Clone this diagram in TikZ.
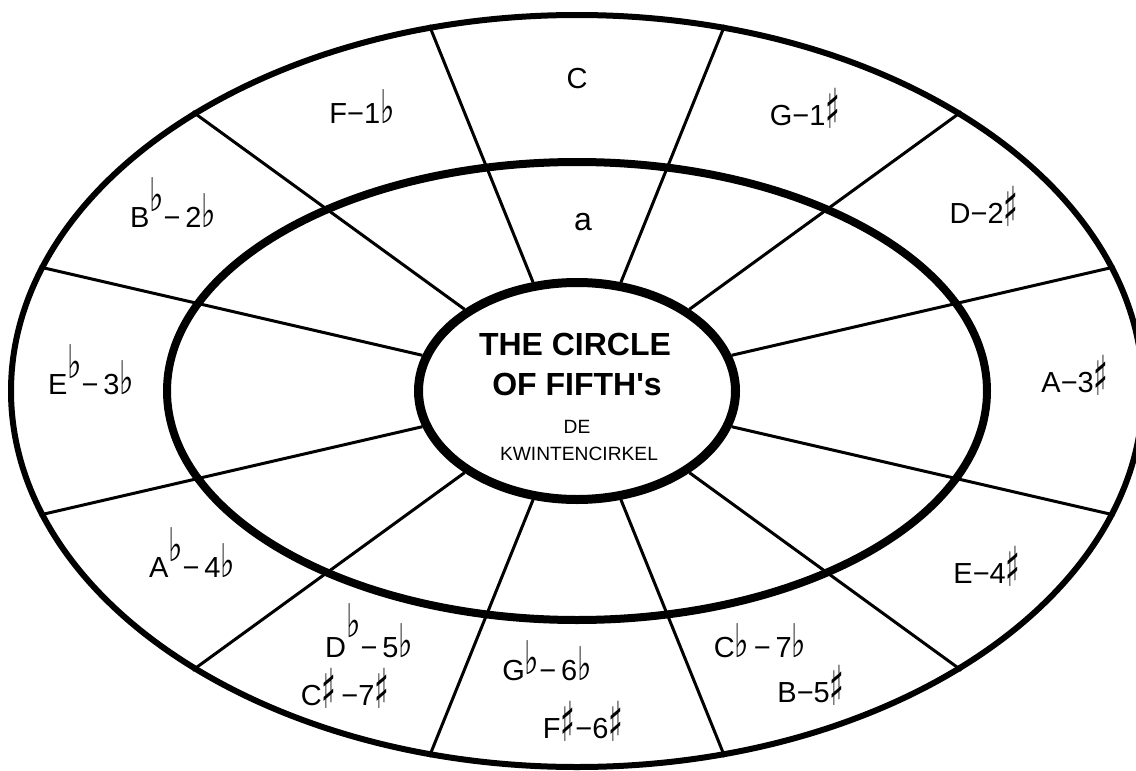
\documentclass[tikz,border=0pt]{standalone}
\usepackage{fontspec}
\setmainfont{Liberation Sans}
\newfontfamily\musicfont{DejaVu Sans}
\usetikzlibrary{shapes.geometric}
\newcommand{\fl}{\scalebox{1.05}[1.6]{\musicfont ♭}}
\newcommand{\sh}{\raisebox{-0.12em}{\scalebox{1.05}[1.9]{\musicfont ♯}}}
\newcommand{\upfl}[1][8pt]{\raisebox{#1}{\fl}}

\begin{document}
\begin{tikzpicture}[x=0.5pt, y=-0.5pt,
  ring/.style={draw, ellipse, inner sep=0pt},
  spoke/.style={line width=1.5pt},
  key/.style={anchor=base, inner sep=0pt, font=\fontsize{14.5}{17}\selectfont},
  title/.style={anchor=base, inner sep=0pt, font=\fontsize{16}{19}\selectfont\bfseries},
  small/.style={anchor=base, inner sep=0pt, font=\fontsize{9.6}{11}\selectfont}]
  \useasboundingbox (0,0) rectangle (1136,771);
  \clip (0,0) rectangle (1136,771);
  % the three rings
  \node[ring, line width=3pt, minimum width=566pt, minimum height=376pt] (rim) at (577,391) {};
  \node[ring, line width=4pt, minimum width=410pt, minimum height=229pt] (mid) at (577,391) {};
  \node[ring, line width=4.5pt, minimum width=158.5pt, minimum height=108.5pt] (hub) at (577,391) {};
  % twelve spokes
  \foreach \a in {13,36,68,112,144,167,193,216,248,292,324,347}
    \draw[spoke] (hub.\a) -- (rim.\a);
  % centre
  \node[title] (t1) at (575,355) {THE CIRCLE};
  \node[title] (t2) at (577,395) {OF FIFTH\textquotesingle s};
  \node[small] (t3) at (577,433) {DE};
  \node[small] (t4) at (579,460) {KWINTENCIRKEL};
  % keys
  \node[key] (kC)  at (577,88)   {C};
  \node[key, font=\fontsize{16}{19}\selectfont] (ka) at (583,230) {a};
  \node[key] (kF)  at (362,123)  {F−1\fl};
  \node[key] (kG)  at (805,125)  {G−1\sh};
  \node[key] (kBb) at (173,227)  {B\upfl−\,2\fl};
  \node[key] (kD)  at (984,223)  {D−2\sh};
  \node[key] (kEb) at (91,394)   {E\upfl−\,3\fl};
  \node[key] (kA)  at (1075,392) {A−3\sh};
  \node[key] (kAb) at (192,577)  {A\upfl−\,4\fl};
  \node[key] (kE)  at (987,583)  {E−4\sh};
  \node[key] (kDb) at (369,657)  {D\upfl[10pt]−\,5\fl};
  \node[key] (kCs) at (345,705)  {C\sh\,−7\sh};
  \node[key] (kGb) at (547,680)  {G\upfl[3pt]−\,6\fl};
  \node[key] (kFs) at (583,738)  {F\sh−6\sh};
  \node[key] (kCb) at (760,657)  {C\fl\,−\,7\fl};
  \node[key] (kB)  at (811,702)  {B−5\sh};
\end{tikzpicture}
\end{document}
